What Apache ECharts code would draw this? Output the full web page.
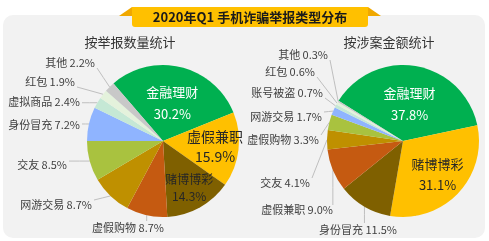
<!DOCTYPE html>
<html>
<head>
<meta charset="utf-8">
<script src="https://cdn.jsdelivr.net/npm/echarts@6/dist/echarts.min.js"></script>
<style>
  html, body { margin: 0; padding: 0; background: #fff; }
  #chart { width: 489px; height: 241px; }
</style>
</head>
<body>
<div id="chart"></div>
<script>
// 按举报数量统计
var countNames = ["金融理财", "虚假兼职", "赌博博彩", "虚假购物", "网游交易", "交友", "身份冒充", "虚拟商品", "红包", "其他"];
var countValues = [30.2, 15.9, 14.3, 8.7, 8.7, 8.5, 7.2, 2.4, 1.9, 2.2];
// 按涉案金额统计
var amountNames = ["金融理财", "赌博博彩", "身份冒充", "虚假兼职", "交友", "虚假购物", "网游交易", "账号被盗", "红包", "其他"];
var amountValues = [37.8, 31.1, 11.5, 9.0, 4.1, 3.3, 1.7, 0.7, 0.6, 0.3];

// 颜色按扇区顺序取，不按类别
var palette = ["#00B050", "#FFC000", "#7F6000", "#C55A11", "#BF9000",
               "#A9C23F", "#8FB4FF", "#C5E8D5", "#E4F2DC", "#C8C8C8"];
var FONT = "'Noto Sans CJK SC', 'Noto Sans', sans-serif";

// 饼内标签：离圆心的半径比例、字号、行高
var countInner = { factor: [0.52, 0.69, 0.71], size: [13, 14, 12], lh: [22, 20, 17] };
var amountInner = { factor: [0.5, 0.63], size: [13, 13], lh: [22, 21] };
// 饼外标签的摆放（相对圆心的偏移，Excel 风格），null = 饼内
var countLabelPos = [null, null, null, [-35, 87, "center"], [-71, 64], [-96, 24],
                     [-83, -16], [-83, -39], [-88, -59], [-68, -78]];
var amountLabelPos = [null, null, [-45, 89, "center"], [-70, 69], [-93, 42], [-84, -1],
                      [-81, -24], [-80, -48], [-88, -69], [-75, -86]];

var CY = 141, R = 76;

function buildData(names, values, inner) {
  return names.map(function (n, i) {
    var item = { name: n, value: values[i], itemStyle: { color: palette[i] } };
    if (i < inner.factor.length) {
      item.label = {
        position: "inside",
        color: i === 0 ? "#fff" : "#262626",
        fontSize: inner.size[i],
        lineHeight: inner.lh[i],
        formatter: function (p) { return p.name + "\n" + p.value.toFixed(1) + "%"; }
      };
    }
    return item;
  });
}

function clamp(v, a, b) { return Math.max(a, Math.min(b, v)); }

function makeLayout(values, cx, startAngle, inner, labelPos) {
  var total = values.reduce(function (s, v) { return s + v; }, 0);
  return function (p) {
    var i = p.dataIndex;
    if (i < inner.factor.length) {
      // 沿扇区中线放在饼内
      var cum = 0;
      for (var k = 0; k < i; k++) cum += values[k];
      var mid = (startAngle - 360 * (cum + values[i] / 2) / total) * Math.PI / 180;
      var rr = R * inner.factor[i];
      return { x: cx + rr * Math.cos(mid), y: CY - rr * Math.sin(mid),
               align: "center", verticalAlign: "middle" };
    }
    var pos = labelPos[i];
    var p0 = p.labelLinePoints[0];
    var x = cx + pos[0], y = CY + pos[1];
    var end;
    if (pos[2] === "center") {
      end = [clamp(p0[0], x - 30, x + 30), y - 7];
    } else {
      end = [Math.min(p0[0], x + 2), clamp(p0[1], y - 5, y + 5)];
    }
    var m = [(p0[0] + end[0]) / 2, (p0[1] + end[1]) / 2];
    return {
      x: x, y: y, align: pos[2] || "right", verticalAlign: "middle",
      labelLinePoints: [p0, m, end]
    };
  };
}

function pieSeries(names, values, cx, startAngle, inner, labelPos) {
  return {
    type: "pie",
    center: [cx, CY],
    radius: R,
    startAngle: startAngle,
    clockwise: true,
    data: buildData(names, values, inner),
    label: {
      fontFamily: FONT,
      fontSize: 11,
      color: "#404040",
      overflow: "none",
      formatter: function (p) { return p.name + " " + p.value.toFixed(1) + "%"; }
    },
    labelLine: {
      length: 8,
      length2: 3,
      lineStyle: { color: "#BFBFBF", width: 1 }
    },
    labelLayout: makeLayout(values, cx, startAngle, inner, labelPos),
    itemStyle: { borderWidth: 0 },
    emphasis: { disabled: true }
  };
}

function headText(text, x, y, size, weight, color) {
  return {
    type: "text", z: 5, x: x, y: y,
    style: { text: text, fontSize: size, fontWeight: weight, fill: color,
             fontFamily: FONT, align: "center", verticalAlign: "middle" }
  };
}

var chart = echarts.init(document.getElementById("chart"));
chart.setOption({
  animation: false,
  series: [
    pieSeries(countNames, countValues, 163, 130.7, countInner, countLabelPos),
    pieSeries(amountNames, amountValues, 403, 148, amountInner, amountLabelPos)
  ],
  graphic: [
    { type: "rect", z: -10, shape: { x: 3, y: 15, width: 482, height: 223, r: 10 },
      style: { fill: "#F2F2F2" } },
    { type: "polygon", z: -5, shape: { points: [[119, 16], [132, 7], [132, 16]] },
      style: { fill: "#F0A800" } },
    { type: "polygon", z: -5, shape: { points: [[381, 16], [368, 7], [368, 16]] },
      style: { fill: "#F0A800" } },
    { type: "rect", z: -4, shape: { x: 132, y: 7, width: 236, height: 20, r: [0, 0, 3, 3] },
      style: { fill: "#FFC000" } },
    headText("2020年Q1 手机诈骗举报类型分布", 250, 17, 13, "bold", "#1a1a1a"),
    headText("按举报数量统计", 130, 42, 13, "normal", "#333"),
    headText("按涉案金额统计", 389, 42, 13, "normal", "#333")
  ]
});
</script>
</body>
</html>
